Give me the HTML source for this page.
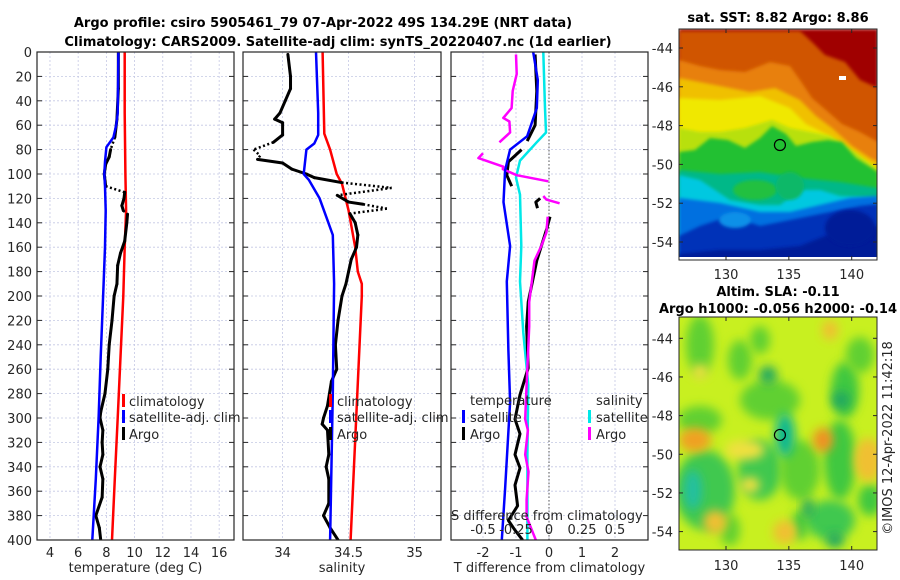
<!DOCTYPE html>
<html><head><meta charset="utf-8"><style>
html,body{margin:0;padding:0;background:#fff;}
svg{display:block;font-family:"DejaVu Sans","Liberation Sans",sans-serif;}
.tl{font-size:13px;fill:#262626;}
.tt{font-size:13px;font-weight:bold;fill:#000;}
</style></head><body>
<svg id="fig" width="900" height="580" viewBox="0 0 900 580" xmlns="http://www.w3.org/2000/svg">
<defs>
<clipPath id="c1"><rect x="37" y="52" width="197" height="488"/></clipPath>
<clipPath id="c2"><rect x="243" y="52" width="198" height="488"/></clipPath>
<clipPath id="c3"><rect x="451" y="52" width="197" height="488"/></clipPath>
<clipPath id="cm1"><rect x="679" y="29" width="198" height="231"/></clipPath>
<clipPath id="cm2"><rect x="679" y="317" width="198" height="233"/></clipPath>
<filter id="bl" x="-50%" y="-50%" width="200%" height="200%"><feGaussianBlur stdDeviation="5"/></filter>
<filter id="bl2" x="-20%" y="-20%" width="140%" height="140%"><feGaussianBlur stdDeviation="1.5"/></filter>
</defs>
<text class="tt" x="323" y="27" text-anchor="middle">Argo profile: csiro 5905461_79 07-Apr-2022 49S 134.29E (NRT data)</text>
<text class="tt" x="338" y="46" text-anchor="middle">Climatology: CARS2009. Satellite-adj clim: synTS_20220407.nc (1d earlier)</text>
<g id="p1"></g>
<g id="p2"></g>
<g id="p3"></g>
<g id="m1"></g>
<g id="m2"></g>
<text class="tl" transform="translate(892,438) rotate(-90)" text-anchor="middle">©IMOS 12-Apr-2022 11:42:18</text>
</svg>
<script>
// ---- data ----
const depthTicks = [0,20,40,60,80,100,120,140,160,180,200,220,240,260,280,300,320,340,360,380,400];
const tempTicks = [4,6,8,10,12,14,16];
const salTicks = [34,34.5,35];
const salTickLabels = ["34","34.5","35"];
const tdTicks = [-2,-1,0,1,2];
const sdTicks = [-0.5,-0.25,0,0.25,0.5];
const sdTickLabels = ["-0.5","-0.25","0","0.25","0.5"];

const climTDepth = [0,50,100,130,160,200,250,300,350,400];
const climT = [9.3,9.3,9.35,9.4,9.3,9.2,9.0,8.8,8.6,8.4];
const satTDepth = [0,50,60,70,78,90,100,110,130,160,190,250,300,350,400];
const satT = [8.85,8.8,8.7,8.5,8.0,7.9,7.85,7.9,7.95,7.9,7.8,7.6,7.45,7.25,7.0];
const argoTDepth = [0,30,55,70,80,86,92,100,110,115,120,126,130,133,140,155,165,175,190,200,220,240,260,280,295,300,310,320,330,340,350,365,380,390,400];
const argoT = [8.85,8.85,8.75,8.6,8.3,8.2,7.95,7.85,7.95,9.3,9.25,9.1,9.2,9.5,9.45,9.3,9.0,8.8,8.75,8.55,8.4,8.2,8.1,7.9,7.6,7.55,7.75,7.7,7.75,7.55,7.75,7.7,7.25,7.5,7.6];
const argoTStyle = ["-","s","s","s","d","s","s","s","s","d","s","s","s","d","s","s","s","s","s","s","s","s","s","s","s","s","s","s","s","s","s","s","s","s","s"];

const climSDepth = [0,67,80,100,108,130,160,180,190,200,400];
const climS = [34.303,34.316,34.36,34.41,34.45,34.5,34.55,34.57,34.6,34.6,34.515];
const satSDepth = [0,50,68,75,80,100,105,120,135,150,190,280,400];
const satS = [34.253,34.27,34.27,34.24,34.18,34.16,34.2,34.28,34.33,34.38,34.39,34.38,34.36];
const argoSDepth = [2,20,30,40,50,55,58,68,74,80,85,88,91,96,100,103,107,111.4,117.5,123,124.8,128.4,132.5,140,150,160,170,180,190,200,220,240,260,270,290,300,305,310,330,340,350,370,380,390,400];
const argoS = [34.04,34.06,34.06,34.02,33.98,33.94,34.0,34.0,33.93,33.78,33.83,33.81,34.0,34.07,34.18,34.24,34.447,34.826,34.414,34.5,34.61,34.79,34.51,34.55,34.57,34.56,34.52,34.5,34.48,34.45,34.42,34.4,34.41,34.37,34.34,34.31,34.3,34.34,34.35,34.33,34.35,34.35,34.31,34.36,34.42];
const argoSStyle = ["-","s","s","s","s","s","s","s","s","d","d","d","s","s","s","s","s","d","d","s","s","d","d","s","s","s","s","s","s","s","s","s","s","s","s","s","s","s","s","s","s","s","s","s","s"];

const satTdDepth = [0,23,46,69,80,97,123,159,188,245,287,358,400];
const satTd = [-0.48,-0.34,-0.37,-0.66,-1.18,-1.33,-1.38,-1.18,-1.28,-1.23,-1.18,-1.33,-1.43];
const satSdDepth = [0,46,66,74,89,103,117,159,188,230,273,330,400];
const satSd = [-0.043,-0.03,-0.023,-0.093,-0.22,-0.25,-0.22,-0.21,-0.22,-0.195,-0.157,-0.164,-0.164];
const argoTdDepth = [2,32,60,73,null,80,90,101,110,null,120,123,128,null,135,145,171,205,225,259,281,301,313,330,341,355,372,384,392,400];
const argoTd = [-0.42,-0.37,-0.42,-0.66,null,-0.83,-1.23,-1.28,-1.13,null,-0.27,-0.4,-0.35,null,0.03,-0.07,-0.37,-0.63,-0.68,-0.63,-0.88,-1.03,-0.88,-1.03,-0.88,-1.03,-0.95,-1.23,-1.03,-0.8];
const argoSdDepth = [2,18,32,46,54,57,66,74,null,83,87,94,96,101,106,null,118,121,124,null,135,148,159,171,205,225,273,301,310,330,344,367,381,400];
const argoSd = [-0.25,-0.245,-0.275,-0.283,-0.346,-0.3,-0.295,-0.376,null,-0.5,-0.535,-0.346,-0.35,-0.245,-0.005,null,-0.043,-0.02,0.08,null,-0.01,-0.02,-0.058,-0.11,-0.15,-0.15,-0.17,-0.18,-0.16,-0.18,-0.155,-0.17,-0.17,-0.1];

const lonTicks = [130,135,140];
const latTicks = [-44,-46,-48,-50,-52,-54];
const argoLon = 134.29, argoLat = -49;

// ---- scales ----
const yD = d => 52 + d*1.22;
const xT = t => 37 + (t-3.08)*14.1;
const xS = s => 243 + (s-33.7)*132;
const xTd = v => 549 + v*33;
const xSd = v => 549 + v*132;
const mx = lon => 726 + (lon-130)*12.57;
const my1 = lat => 48 + (-44-lat)*19.4;
const my2 = lat => 338.3 + (-44-lat)*19.33;

const NS = "http://www.w3.org/2000/svg";
function mk(parent, tag, attrs, text){
  const e = document.createElementNS(NS, tag);
  for (const k in attrs) e.setAttribute(k, attrs[k]);
  if (text !== undefined) e.textContent = text;
  parent.appendChild(e); return e;
}

function panelFrame(g, x0, x1, xTicks, xFn, xLabels, showY, xlabel, clip){
  const gr = mk(g,'g',{});
  
  
  depthTicks.forEach(d=>{
    mk(gr,'line',{x1:x0,x2:x1,y1:yD(d),y2:yD(d),stroke:'#c4c8e4','stroke-width':0.8,'stroke-dasharray':'2,2'});
    mk(g,'line',{x1:x0,x2:x0+5,y1:yD(d),y2:yD(d),stroke:'#262626','stroke-width':1});
    mk(g,'line',{x1:x1-5,x2:x1,y1:yD(d),y2:yD(d),stroke:'#262626','stroke-width':1});
    if (showY){
      const t = mk(g,'text',{x:x0-5,y:yD(d)+5,'text-anchor':'end',class:'tl'}, String(d));
      
      
    }
  });
  xTicks.forEach((v,i)=>{
    mk(gr,'line',{x1:xFn(v),x2:xFn(v),y1:52,y2:540,stroke:'#c4c8e4','stroke-width':0.8,'stroke-dasharray':'2,2'});
    const t = mk(g,'text',{x:xFn(v),y:557,'text-anchor':'middle',class:'tl'}, xLabels[i]);
    
    
  });
  const xl = mk(g,'text',{x:(x0+x1)/2,y:572,'text-anchor':'middle',class:'tl'}, xlabel);
  
  
  const data = mk(g,'g',{'clip-path':'url(#'+clip+')'});
  mk(g,'rect',{x:x0,y:52,width:x1-x0,height:488,fill:'none',stroke:'#262626','stroke-width':1.2});
  return data;
}

function line(g, xs, ds, xFn, color, w, name){
  let pts=[], segs=[];
  for (let i=0;i<xs.length;i++){
    if (xs[i]===null){ if(pts.length) segs.push(pts); pts=[]; continue; }
    pts.push(xFn(xs[i]).toFixed(1)+','+yD(ds[i]).toFixed(1));
  }
  if (pts.length) segs.push(pts);
  segs.forEach(p=>{
    const pl = mk(g,'polyline',{points:p.join(' '),fill:'none',stroke:color,'stroke-width':w,'stroke-linejoin':'round'});
    
    
  });
}

function styledLine(g, xs, ds, st, xFn, name){
  for (let i=1;i<xs.length;i++){
    const dotted = st[i]==='d';
    const l = mk(g,'line',{x1:xFn(xs[i-1]),y1:yD(ds[i-1]),x2:xFn(xs[i]),y2:yD(ds[i]),stroke:'#000','stroke-width':dotted?2.5:3,'stroke-linecap':dotted?'butt':'round'});
    if (dotted) l.setAttribute('stroke-dasharray','2,2.5');
    
    
  }
}

function legendEntry(g, bx, tx, y, color, label, name){
  const e = mk(g,'g',{});
  
  
  if (color) mk(e,'rect',{x:bx,y:y-12,width:3,height:13,fill:color});
  mk(e,'text',{x:tx,y:y,class:'tl'},label);
}

// ---- panel 1 ----
const p1 = document.getElementById('p1');
const d1 = panelFrame(p1,37,234,tempTicks,xT,tempTicks.map(String),true,'temperature (deg C)','c1');
line(d1, climT, climTDepth, xT, '#ff0000', 2.5, 'climatology-temperature-line');
styledLine(d1, argoT, argoTDepth, argoTStyle, xT, 'argo-temperature-line');
line(d1, satT, satTDepth, xT, '#0000ff', 2.5, 'satellite-temperature-line');
legendEntry(p1,122,129,406,'#ff0000','climatology','legend-climatology');
legendEntry(p1,122,129,422,'#0000ff','satellite-adj. clim','legend-satellite');
legendEntry(p1,122,129,439,'#000','Argo','legend-argo');

// ---- panel 2 ----
const p2 = document.getElementById('p2');
const d2 = panelFrame(p2,243,441,salTicks,xS,salTickLabels,false,'salinity','c2');
line(d2, climS, climSDepth, xS, '#ff0000', 2.5, 'climatology-salinity-line');
styledLine(d2, argoS, argoSDepth, argoSStyle, xS, 'argo-salinity-line');
line(d2, satS, satSDepth, xS, '#0000ff', 2.5, 'satellite-salinity-line');
legendEntry(p2,329,337,406,'#ff0000','climatology','legend-climatology');
legendEntry(p2,329,337,422,'#0000ff','satellite-adj. clim','legend-satellite');
legendEntry(p2,329,337,439,'#000','Argo','legend-argo');

// ---- panel 3 ----
const p3 = document.getElementById('p3');
const d3 = panelFrame(p3,451,648,tdTicks,xTd,tdTicks.map(String),false,'T difference from climatology','c3');
mk(d3,'line',{x1:xTd(0),x2:xTd(0),y1:52,y2:540,stroke:'#555','stroke-width':1,'stroke-dasharray':'1.5,2'});
line(d3, satSd, satSdDepth, xSd, '#00e8e8', 2.5, 'satellite-salinity-diff-line');
line(d3, argoTd, argoTdDepth, xTd, '#000', 3, 'argo-temperature-diff-line');
line(d3, argoSd, argoSdDepth, xSd, '#ff00ff', 2.5, 'argo-salinity-diff-line');
line(d3, satTd, satTdDepth, xTd, '#0000ff', 2.5, 'satellite-temperature-diff-line');
legendEntry(p3,0,470,405,null,'temperature','legend-temperature-header');
legendEntry(p3,462,470,422,'#0000ff','satellite','legend-temp-satellite');
legendEntry(p3,462,470,439,'#000','Argo','legend-temp-argo');
legendEntry(p3,0,596,405,null,'salinity','legend-salinity-header');
legendEntry(p3,588,596,422,'#00e8e8','satellite','legend-sal-satellite');
legendEntry(p3,588,596,439,'#ff00ff','Argo','legend-sal-argo');
const sdt = mk(p3,'text',{x:451,y:520,class:'tl'},'S difference from climatology');


sdTicks.forEach((v,i)=>{
  const t = mk(p3,'text',{x:xSd(v),y:534,'text-anchor':'middle',class:'tl'},sdTickLabels[i]);
  
  
});

// ---- maps ----
function mapFrame(g, y0, y1, myFn, clip, lonY){
  const img = mk(g,'g',{'clip-path':'url(#'+clip+')'});
  latTicks.forEach(l=>{
    mk(g,'line',{x1:679,x2:683,y1:myFn(l),y2:myFn(l),stroke:'#262626'});
    mk(g,'line',{x1:873,x2:877,y1:myFn(l),y2:myFn(l),stroke:'#262626'});
    const t = mk(g,'text',{x:673,y:myFn(l)+5,'text-anchor':'end',class:'tl'},String(l));
    
    
  });
  lonTicks.forEach(l=>{
    mk(g,'line',{x1:mx(l),x2:mx(l),y1:y1-4,y2:y1,stroke:'#262626'});
    mk(g,'line',{x1:mx(l),x2:mx(l),y1:y0,y2:y0+4,stroke:'#262626'});
    const t = mk(g,'text',{x:mx(l),y:lonY,'text-anchor':'middle',class:'tl'},String(l));
    
    
  });
  return img;
}
const m1 = document.getElementById('m1');
const t1 = mk(m1,'text',{x:778,y:22,'text-anchor':'middle',class:'tt'},'sat. SST: 8.82 Argo: 8.86');


const i1 = mapFrame(m1,29,260,my1,'cm1',279);
const bands = [
 ['#a00000','679,29 878,29'],
 ['#d05400','679,31 800,31 812,42 825,55 845,62 860,80 878,88'],
 ['#e88010','679,60 700,66 720,70 745,72 770,62 790,66 800,80 812,98 826,110 842,124 860,132 878,142'],
 ['#f0c000','679,78 720,86 750,92 775,88 800,100 816,116 832,128 852,146 870,158 878,162'],
 ['#f0e800','679,98 720,100 760,96 790,108 806,124 830,136 852,152 878,168'],
 ['#b8e010','679,128 700,132 720,132 745,128 772,120 790,128 810,132 830,136 855,152 878,170'],
 ['#20c030','679,152 695,150 710,138 728,140 745,148 760,138 772,126 786,134 796,146 812,142 828,140 842,142 856,158 878,172'],
 ['#00b888','679,170 720,174 760,172 800,178 840,182 878,188'],
 ['#00c8e0','679,175 700,180 730,200 760,205 780,205 800,190 820,190 840,196 878,198'],
 ['#0070e0','679,198 720,203 760,212 790,212 820,205 850,198 878,196'],
 ['#0030b8','679,236 700,226 730,216 760,226 800,218 830,212 860,206 878,204'],
 ['#001a98','679,254 720,250 760,250 800,246 840,230 878,226']
];
bands.forEach((b,i)=>{
  const p = mk(i1,'polygon',{points:b[1]+' 878,262 679,262',fill:b[0],filter:'url(#bl2)'});
  
  
});
[[755,190,22,10,'#20c040'],[790,186,14,14,'#10b868'],[850,228,25,18,'#001a98'],[735,220,16,8,'#0a90e8']].forEach(e=>{
  mk(i1,'ellipse',{cx:e[0],cy:e[1],rx:e[2],ry:e[3],fill:e[4],filter:'url(#bl2)'});
});
mk(i1,'rect',{x:679,y:257,width:198,height:3,fill:'#fff'});
mk(i1,'rect',{x:839,y:76,width:7,height:4,fill:'#fff'});
mk(m1,'rect',{x:679,y:29,width:198,height:231,fill:'none',stroke:'#262626'});
const c1 = mk(m1,'circle',{cx:mx(argoLon),cy:my1(argoLat),r:5.5,fill:'none',stroke:'#000','stroke-width':1.2});



const m2 = document.getElementById('m2');
const t2 = mk(m2,'text',{x:778,y:296,'text-anchor':'middle',class:'tt'},'Altim. SLA: -0.11');


const t3 = mk(m2,'text',{x:778,y:313,'text-anchor':'middle',class:'tt'},'Argo h1000: -0.056 h2000: -0.14');


const i2 = mapFrame(m2,317,550,my2,'cm2',570);
mk(i2,'rect',{x:679,y:317,width:198,height:233,fill:'#c8f020'});
const blobs = [
 [700,345,14,30,'#60d030'],[740,360,12,20,'#60d030'],[770,400,30,20,'#60d030'],[700,420,22,14,'#60d030'],
 [760,340,10,14,'#60d030'],[845,390,14,28,'#40c840'],[860,355,14,18,'#60d030'],[705,490,30,40,'#40c850'],
 [760,470,22,30,'#40c850'],[800,470,20,30,'#60d030'],[840,460,16,40,'#40c840'],[830,520,25,20,'#40c850'],
 [870,500,12,16,'#40c840'],[730,530,10,16,'#60d030'],[800,525,8,15,'#40c840']
];
blobs.forEach(b=>{
  const e = mk(i2,'ellipse',{cx:b[0],cy:b[1],rx:b[2],ry:b[3],fill:b[4],filter:'url(#bl)'});
  
  
});
[[768,375,9,9,'#20a860'],[785,435,10,22,'#10b890'],[841,400,9,9,'#20a860'],[693,490,9,20,'#20c0a0'],[808,508,6,10,'#20a860'],[835,540,9,8,'#20a860']].forEach(b=>{
  mk(i2,'ellipse',{cx:b[0],cy:b[1],rx:b[2],ry:b[3],fill:b[4],filter:'url(#bl)'});
});
[[695,440,16,12,'#f0a020'],[823,440,10,12,'#f09020'],[868,460,14,22,'#f0c030'],[745,450,20,10,'#f0e040'],
 [715,522,12,12,'#f0c030'],[785,532,12,12,'#f0c030'],[750,485,10,8,'#f0e040'],[830,330,8,10,'#f0c030'],[700,372,8,8,'#f0e040']].forEach(b=>{
  mk(i2,'ellipse',{cx:b[0],cy:b[1],rx:b[2],ry:b[3],fill:b[4],filter:'url(#bl)'});
});
mk(m2,'rect',{x:679,y:317,width:198,height:233,fill:'none',stroke:'#262626'});
const c2 = mk(m2,'circle',{cx:mx(argoLon),cy:my2(argoLat),r:5.5,fill:'none',stroke:'#000','stroke-width':1.2});


</script>
</body></html>
